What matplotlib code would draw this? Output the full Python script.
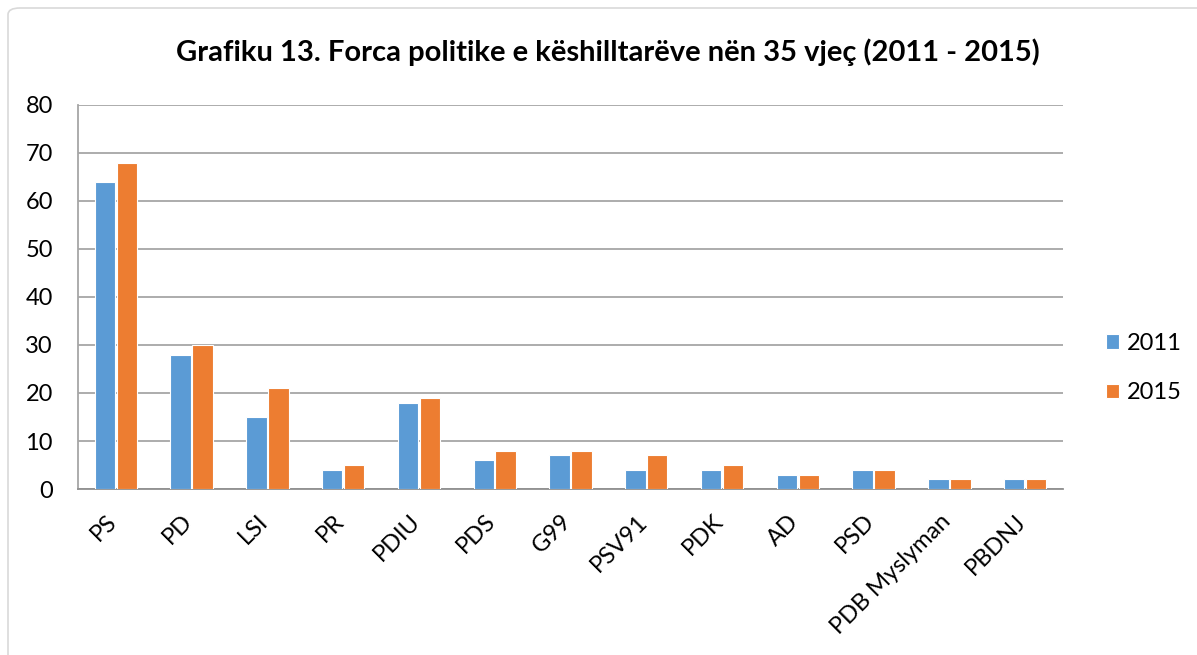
import numpy as np
from matplotlib import pyplot as plt
from matplotlib.patches import FancyBboxPatch
from matplotlib.transforms import ScaledTranslation

###* DATA
parties = ["PS", "PD", "LSI", "PR", "PDIU", "PDS", "G99", "PSV91", "PDK", "AD", "PSD",
           "PDB Myslyman", "PBDNJ"]
v2011 = [64, 28, 15, 4, 18, 6, 7, 4, 4, 3, 4, 2, 2]
v2015 = [68, 30, 21, 5, 19, 8, 8, 7, 5, 3, 4, 2, 2]
years = ["2011", "2015"]
yticks = [0, 10, 20, 30, 40, 50, 60, 70, 80]

BLUE = "#5b9bd5"
ORANGE = "#ed7d31"
GRID = "#a6a6a6"

plt.rcParams["font.family"] = ["Lato", "DejaVu Sans"]

###* FIGURE
fig = plt.figure(figsize=(11.97, 6.55), dpi=100)
border = FancyBboxPatch((8 / 1197, -0.05), 1.2, 1.05 - 8 / 655,
                        boxstyle="round,pad=0,rounding_size=0.01",
                        transform=fig.transFigure, facecolor="none",
                        edgecolor="#d9d9d9", linewidth=1.2, zorder=0)
fig.patches.append(border)

ax = fig.add_axes([78 / 1197, 1 - 489 / 655, (1063 - 78) / 1197, (489 - 105) / 655])
x = np.arange(len(parties))
w = 0.27
ax.bar(x - w / 2 - 0.01, v2011, w, color=BLUE, edgecolor="white", linewidth=0.8,
       label=years[0], zorder=3)
ax.bar(x + w / 2 + 0.01, v2015, w, color=ORANGE, edgecolor="white", linewidth=0.8,
       label=years[1], zorder=3)

ax.set_xlim(-0.5, len(parties) - 0.5)
ax.set_ylim(0, 80)
ax.set_yticks(yticks)
ax.yaxis.grid(True, color=GRID, linewidth=1.3, zorder=0)
ax.set_axisbelow(True)
for s in ["top", "right"]:
    ax.spines[s].set_visible(False)
ax.spines["left"].set_color(GRID)
ax.spines["left"].set_linewidth(1.3)
ax.spines["bottom"].set_color("#909090")
ax.spines["bottom"].set_linewidth(1.3)
ax.tick_params(axis="both", length=0, labelsize=17, colors="black")
ax.tick_params(axis="y", pad=18)
ax.set_xticks(x)
ax.set_xticklabels(parties, rotation=45, ha="right", rotation_mode="anchor")
ax.tick_params(axis="x", pad=12)
shift = ScaledTranslation(-10 / 100, -5 / 100, fig.dpi_scale_trans)
for lab in ax.get_xticklabels():
    lab.set_transform(lab.get_transform() + shift)

ax.legend(loc="center left", bbox_to_anchor=(1.022, 0.315), frameon=False, fontsize=17,
          handlelength=0.55, handleheight=0.55, handletextpad=0.35, labelspacing=1.2)

fig.text(608 / 1197, 1 - 52 / 655, "Grafiku 13. Forca politike e këshilltarëve nën 35 vjeç (2011 - 2015)",
         ha="center", va="center", fontsize=21, fontweight="bold")

fig.savefig("out.png", dpi=100)
